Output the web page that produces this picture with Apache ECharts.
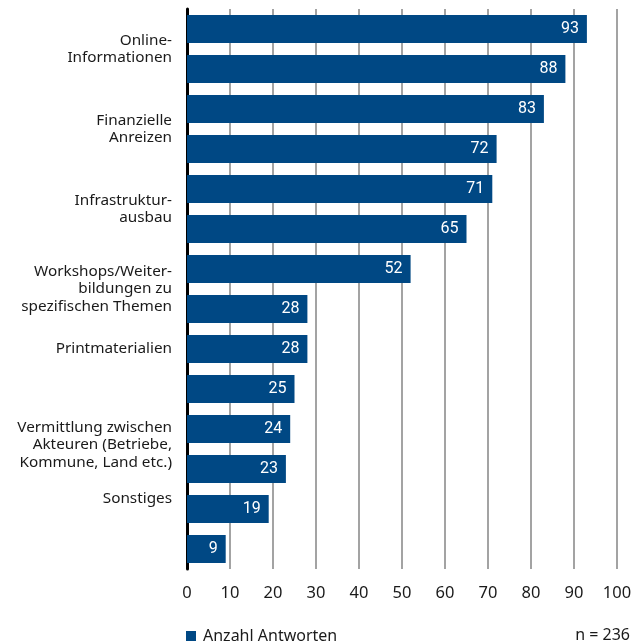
<!DOCTYPE html>
<html lang="de">
<head>
<meta charset="utf-8">
<title>Anzahl Antworten</title>
<script src="https://cdn.jsdelivr.net/npm/echarts@6/dist/echarts.min.js"></script>
<style>
  html, body { margin: 0; padding: 0; background: #ffffff; }
  #chart { width: 640px; height: 642px; }
</style>
</head>
<body>
<div id="chart"></div>
<script>
// Antworten je Balken, von oben nach unten
const values = [93, 88, 83, 72, 71, 65, 52, 28, 28, 25, 24, 23, 19, 9];
const barKeys = values.map((v, i) => 'B' + (i + 1));

// Beschriftungen der Themen und ihre Lage auf der Balkenachse (in Balkenbreiten von oben)
const topicLabels = [
  'Online-\nInformationen',
  'Finanzielle\nAnreizen',
  'Infrastruktur-\nausbau',
  'Workshops/Weiter-\nbildungen zu\nspezifischen Themen',
  'Printmaterialien',
  'Vermittlung zwischen\nAkteuren (Betriebe,\nKommune, Land etc.)',
  'Sonstiges'
];
const topicPositions = [1, 3, 5, 7, 8.5, 10.9, 12.25];

const xTicks = [0, 10, 20, 30, 40, 50, 60, 70, 80, 90, 100];
const seriesName = 'Anzahl Antworten';
const sampleNote = 'n = 236';

const BLUE = '#004884';
const FONT = "'Noto Sans', 'DejaVu Sans', sans-serif";
const TEXT = '#1a1a1a';

const chart = echarts.init(document.getElementById('chart'), null, { renderer: 'canvas' });

chart.setOption({
  animation: false,
  backgroundColor: '#ffffff',
  grid: { left: 187, right: 23, top: 9, bottom: 73, containLabel: false },
  title: {
    text: sampleNote,
    right: 5,
    top: 622,
    textStyle: { fontFamily: FONT, fontSize: 16, fontWeight: 'normal', color: TEXT }
  },
  legend: {
    data: [seriesName],
    left: 181,
    top: 623,
    icon: 'rect',
    itemWidth: 10,
    itemHeight: 10,
    itemGap: 8,
    textStyle: { fontFamily: FONT, fontSize: 16, color: TEXT, padding: [0, 0, 0, 2] }
  },
  xAxis: {
    type: 'value',
    min: xTicks[0],
    max: xTicks[xTicks.length - 1],
    interval: xTicks[1] - xTicks[0],
    axisLine: { show: false },
    axisTick: { show: false },
    axisLabel: { fontFamily: FONT, fontSize: 16.5, color: TEXT, margin: 16 },
    splitLine: { show: true, lineStyle: { color: '#a3a3a3', width: 2 } }
  },
  yAxis: [
    {
      type: 'category',
      data: barKeys,
      inverse: true,
      axisLine: { show: true, lineStyle: { color: '#000000', width: 3 } },
      axisTick: { show: false },
      axisLabel: { show: false },
      splitLine: { show: false }
    },
    {
      type: 'value',
      inverse: true,
      position: 'left',
      min: 0,
      max: values.length,
      axisLine: { show: false },
      axisTick: { show: false },
      splitLine: { show: false },
      axisLabel: {
        show: true,
        customValues: topicPositions,
        margin: 15,
        fontFamily: FONT,
        fontSize: 15.3,
        lineHeight: 17.5,
        color: TEXT,
        align: 'right',
        formatter: function (value) {
          const i = topicPositions.indexOf(value);
          return i >= 0 ? topicLabels[i] : '';
        }
      }
    }
  ],
  series: [
    {
      name: seriesName,
      type: 'bar',
      yAxisIndex: 0,
      data: values,
      barCategoryGap: '30%',
      itemStyle: { color: BLUE },
      z: 3,
      label: {
        show: true,
        position: 'insideRight',
        distance: 8,
        color: '#ffffff',
        fontFamily: "Roboto, 'Noto Sans', sans-serif",
        fontSize: 16,
        fontWeight: 'normal'
      }
    }
  ]
});
</script>
</body>
</html>
